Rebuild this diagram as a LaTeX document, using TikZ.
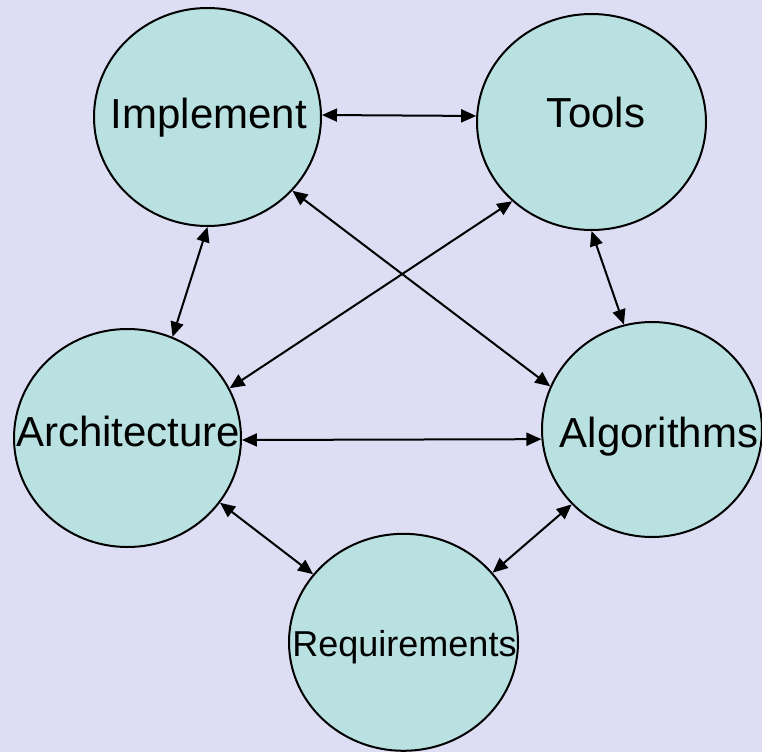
\documentclass[tikz,border=0pt]{standalone}
\usepackage{fontspec}
\setmainfont{Liberation Sans}
\usetikzlibrary{shapes.geometric,arrows.meta}
\definecolor{bgcol}{HTML}{DDDDF4}
\definecolor{circfill}{HTML}{B9E1E2}
\begin{document}
\begin{tikzpicture}[x=1pt,y=-1pt,
  topic/.style={ellipse,draw=black,line width=2pt,fill=circfill,inner sep=0pt},
  lbl/.style={anchor=base,inner sep=0pt,text=black,font=\fontsize{42}{50}\selectfont},
  lblsmall/.style={lbl,font=\fontsize{36}{43}\selectfont},
  link/.style={{Triangle[length=15pt,width=13pt]}-{Triangle[length=15pt,width=13pt]},line width=2pt,draw=black}]
\fill[bgcol] (0,0) rectangle (762,752);
\useasboundingbox (0,0) rectangle (762,752);
% topics
\node[topic,minimum width=227pt,minimum height=218pt] (impl)  at (207.5,117) {};
\node[topic,minimum width=229pt,minimum height=216pt] (tools) at (591.5,122) {};
\node[topic,minimum width=227pt,minimum height=218pt] (arch)  at (127.5,438) {};
\node[topic,minimum width=220pt,minimum height=215pt] (algo)  at (652,429.5) {};
\node[topic,minimum width=229pt,minimum height=217pt] (req)   at (403.5,642.3) {};
% labels
\node[lbl] (implT)  at ([shift={(1.2,11)}]impl.center) {Implement};
\node[lbl] (toolsT) at ([shift={(4.5,5.7)}]tools.center) {Tools};
\node[lbl] (archT)  at ([shift={(0.8,8.7)}]arch.center) {Architecture};
\node[lbl] (algoT)  at ([shift={(7,17.8)}]algo.center) {Algorithms};
\node[lblsmall] (reqT) at ([shift={(1,14.4)}]req.center) {Requirements};
% connectors
\draw[link] (impl.1) -- (tools.177);
\draw[link] (impl.319) -- (algo.157);
\draw[link] (tools.225) -- (arch.26);
\draw[link] (impl.270) -- (arch.66);
\draw[link] (tools.270) -- (algo.105);
\draw[link] (arch.359) -- (algo.185);
\draw[link] (arch.325) -- (req.143);
\draw[link] (algo.223) -- (req.38);
\end{tikzpicture}
\end{document}
